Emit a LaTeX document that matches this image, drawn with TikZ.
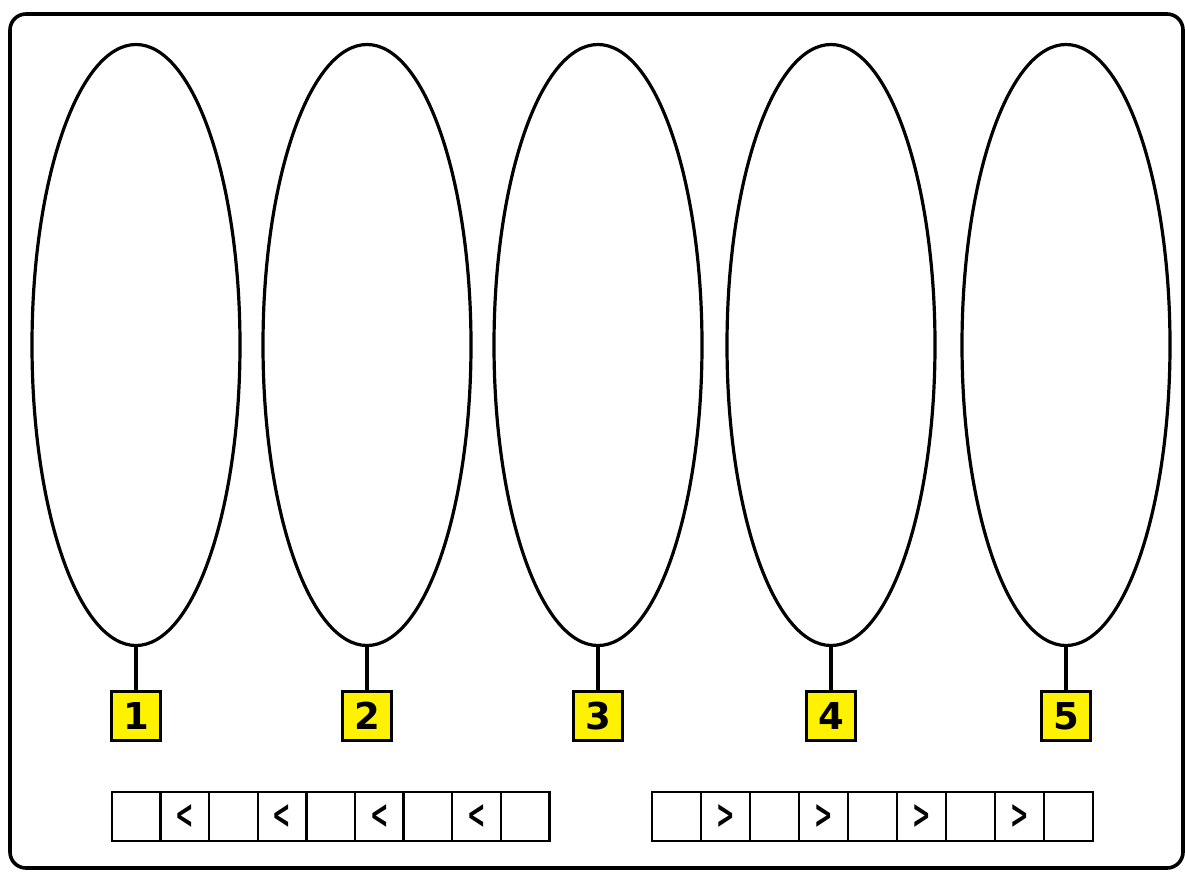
\documentclass[tikz,border=0pt]{standalone}
\usepackage{fontspec}
\newfontfamily\digitfont{DejaVu Sans}
\usepackage{xcolor}
\definecolor{TagYellow}{HTML}{FFF200}
\usetikzlibrary{shapes.geometric,positioning}

\begin{document}
\begin{tikzpicture}[x=1pt,y=-1pt,
    frame/.style={draw=black,line width=3.6pt,rounded corners=16pt},
    pod/.style={ellipse,draw=black,line width=3.2pt,minimum width=208pt,minimum height=601pt,inner sep=0pt},
    tag/.style={draw=black,line width=2.6pt,fill=TagYellow,minimum width=49pt,minimum height=49pt,inner sep=0pt,
      font=\digitfont\bfseries\fontsize{37}{37}\selectfont},
    stem/.style={line width=3.2pt},
    cell/.style={draw=black,line width=2.4pt,minimum height=49pt,inner sep=0pt},
    chevron/.style={font=\digitfont\bfseries\fontsize{40}{40}\selectfont,xscale=0.55,inner sep=0pt}
  ]
    \useasboundingbox (0,0) rectangle (1185,871);
    \draw[frame] (10,14) rectangle (1183,868);
    % pods and their number tags
    \foreach \px/\n in {136/1,367/2,598/3,831/4,1066/5}{
      \node[pod] (pod\n) at (\px,345) {};
      \node[tag,below=43pt of pod\n] (tag\n) {\n};
      \draw[stem] (pod\n.south) -- (tag\n.north);
    }
    % left strip
    \foreach \i in {1,...,9}{
      \node[cell,minimum width=48.6pt] (lcell\i) at ({112+48.6*(\i-0.5)},816.5) {};
    }
    \foreach \i in {2,4,6,8}{
      \node[chevron] (lmark\i) at (lcell\i) {<};
    }
    % right strip
    \foreach \i in {1,...,9}{
      \node[cell,minimum width=49pt] (rcell\i) at ({652+49*(\i-0.5)},816.5) {};
    }
    \foreach \i in {2,4,6,8}{
      \node[chevron] (rmark\i) at (rcell\i) {>};
    }
  \end{tikzpicture}
\end{document}
